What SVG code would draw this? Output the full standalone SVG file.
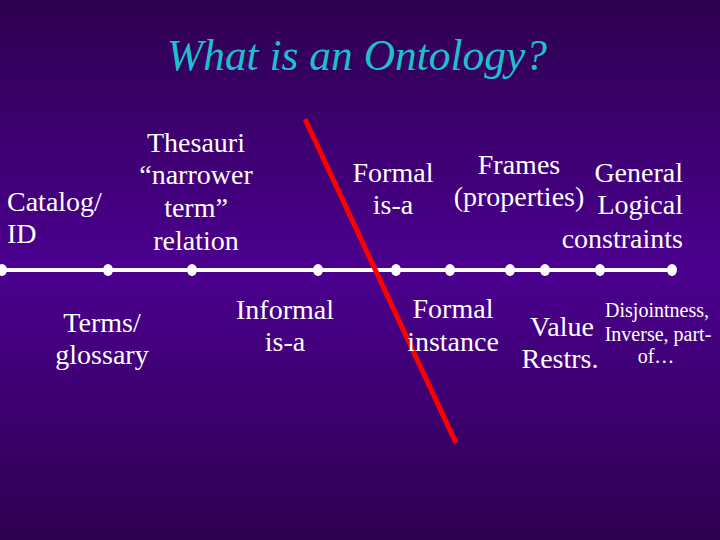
<svg xmlns="http://www.w3.org/2000/svg" width="720" height="540" viewBox="0 0 720 540">
<defs>
<linearGradient id="bg" x1="0" y1="0" x2="0" y2="1">
<stop offset="0" stop-color="#2e0050"/>
<stop offset="0.5" stop-color="#4b008f"/>
<stop offset="1" stop-color="#2e0050"/>
</linearGradient>
</defs>
<style>
.t{font-family:"Liberation Serif","Times New Roman",serif;fill:#ffffff;font-size:28px}
.s{font-size:20px}
.c{text-anchor:middle}
.r{text-anchor:end}
.dot{fill:#ffffff}
</style>
<rect width="720" height="540" fill="url(#bg)"/>
<text x="357" y="70" font-family="'Liberation Serif','Times New Roman',serif" font-style="italic" font-size="45" fill="#1fbfd0" text-anchor="middle" textLength="380" lengthAdjust="spacingAndGlyphs">What is an Ontology?</text>
<g id="connectors">
<line x1="2" y1="270" x2="672" y2="270" stroke="#ffffff" stroke-width="4"/>
<line x1="305" y1="119" x2="456" y2="443" stroke="#ff0000" stroke-width="5"/>
</g>
<g id="dots">
<ellipse class="dot" cx="2" cy="270" rx="5" ry="6"/>
<ellipse class="dot" cx="108" cy="270" rx="5" ry="6"/>
<ellipse class="dot" cx="192" cy="270" rx="5" ry="6"/>
<ellipse class="dot" cx="318" cy="270" rx="5" ry="6"/>
<ellipse class="dot" cx="396" cy="270" rx="5" ry="6"/>
<ellipse class="dot" cx="450" cy="270" rx="5" ry="6"/>
<ellipse class="dot" cx="510" cy="270" rx="5" ry="6"/>
<ellipse class="dot" cx="545" cy="270" rx="5" ry="6"/>
<ellipse class="dot" cx="600" cy="270" rx="5" ry="6"/>
<ellipse class="dot" cx="672" cy="270" rx="5" ry="6"/>
</g>
<g id="catalog"><text class="t" x="7" y="211">Catalog/</text><text class="t" x="7" y="243">ID</text></g>
<g id="thesauri">
<text class="t c" x="196" y="152">Thesauri</text>
<text class="t c" x="196" y="184">“narrower</text>
<text class="t c" x="196" y="217">term”</text>
<text class="t c" x="196" y="250">relation</text>
</g>
<g id="formal-isa"><text class="t c" x="393" y="182">Formal</text><text class="t c" x="393" y="214">is-a</text></g>
<g id="frames"><text class="t c" x="519" y="174">Frames</text><text class="t c" x="519" y="206">(properties)</text></g>
<g id="general"><text class="t r" x="683" y="182">General</text><text class="t r" x="683" y="214">Logical</text><text class="t r" x="683" y="248">constraints</text></g>
<g id="terms"><text class="t c" x="102" y="332">Terms/</text><text class="t c" x="102" y="364">glossary</text></g>
<g id="informal"><text class="t c" x="285" y="319">Informal</text><text class="t c" x="285" y="351">is-a</text></g>
<g id="formal-instance"><text class="t c" x="453" y="318">Formal</text><text class="t c" x="453" y="351">instance</text></g>
<g id="value"><text class="t c" x="562" y="336">Value</text><text class="t c" x="560" y="368">Restrs.</text></g>
<g id="disjoint"><text class="t s c" x="657" y="317">Disjointness,</text><text class="t s c" x="658" y="341">Inverse, part-</text><text class="t s c" x="656" y="363">of…</text></g>
</svg>
